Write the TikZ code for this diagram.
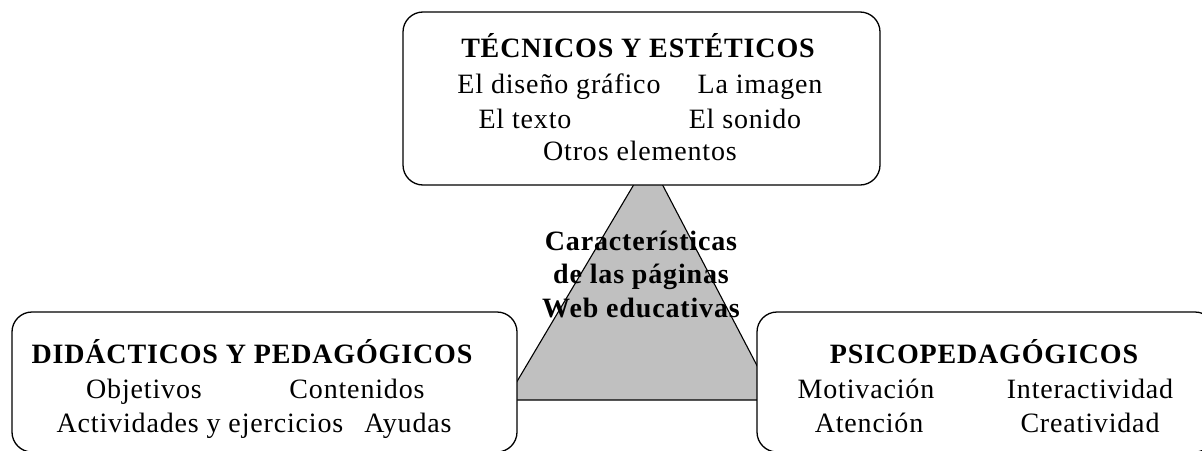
\documentclass[tikz,border=0pt]{standalone}
\usepackage{fontspec}
\setmainfont[LetterSpace=3]{Liberation Serif}
\definecolor{trigray}{RGB}{192,192,192}
\begin{document}
\begin{tikzpicture}[x=1pt,y=-1pt,
  box/.style={draw=black,line width=1.3pt,fill=white,rounded corners=20pt,inner sep=0pt,outer sep=0pt},
  txt/.style={inner sep=0pt,anchor=base,font=\fontsize{28}{34}\selectfont},
  ttl/.style={inner sep=0pt,anchor=base,font=\fontsize{28}{34}\selectfont\bfseries}]
\useasboundingbox (0,0) rectangle (1202,450);
\clip (0,0) rectangle (1202,450);
\fill[white] (0,0) rectangle (1202,450);
% triangle
\coordinate (apex) at (649,159);
\coordinate (bl) at (506,400);
\coordinate (br) at (775,400);
\draw[line width=1.1pt,fill=trigray] (apex) -- (bl) -- (br) -- cycle;
% boxes
\node[box,minimum width=477pt,minimum height=173pt] (top) at (641.5,98.5) {};
\node[box,minimum width=505pt,minimum height=140pt] (left) at (264.5,382) {};
\node[box,minimum width=458pt,minimum height=140pt] (right) at (986,382) {};
% top box text
\node[ttl] (t0) at (638,57) {TÉCNICOS Y ESTÉTICOS};
\node[txt] (t1) at (559,93) {El diseño gráfico};
\node[txt] (t2) at (760,93) {La imagen};
\node[txt] (t3) at (525,128) {El texto};
\node[txt] (t4) at (745,128) {El sonido};
\node[txt] (t5) at (640,160) {Otros elementos};
% middle text
\node[ttl] (m1) at (641,250) {Características};
\node[ttl] (m2) at (641,283) {de las páginas};
\node[ttl] (m3) at (641,317) {Web educativas};
% left box text
\node[ttl] (l0) at (252,363) {DIDÁCTICOS Y PEDAGÓGICOS};
\node[txt] (l1) at (144,398) {Objetivos};
\node[txt] (l2) at (357,398) {Contenidos};
\node[txt] (l3) at (200,432) {Actividades y ejercicios};
\node[txt] (l4) at (408,432) {Ayudas};
% right box text
\node[ttl] (r0) at (984,363) {PSICOPEDAGÓGICOS};
\node[txt] (r1) at (866,398) {Motivación};
\node[txt] (r2) at (1090,398) {Interactividad};
\node[txt] (r3) at (869,432) {Atención};
\node[txt] (r4) at (1090,432) {Creatividad};
\end{tikzpicture}
\end{document}
